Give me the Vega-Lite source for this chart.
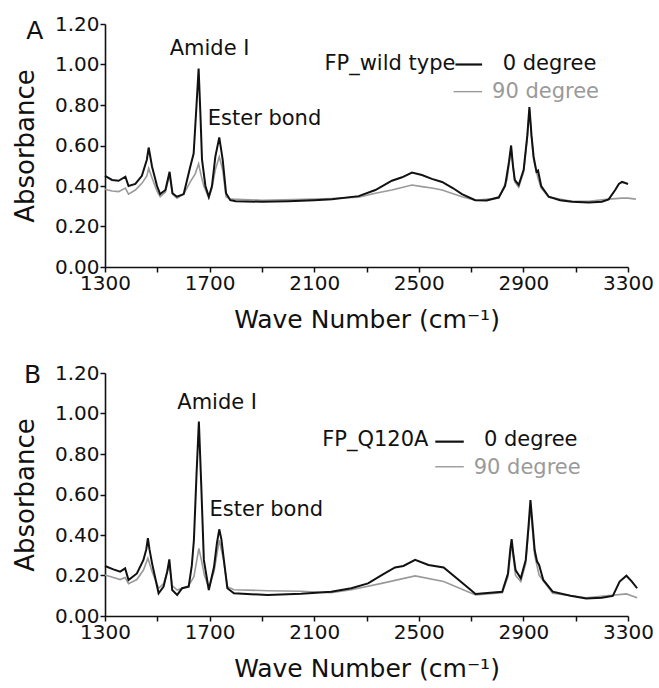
{
  "$schema": "https://vega.github.io/schema/vega-lite/v6.json",
  "background": "white",
  "padding": {"left": 12, "top": 14, "right": 20, "bottom": 5},
  "spacing": 31,
  "config": {
    "view": {"stroke": null},
    "font": "DejaVu Sans",
    "axis": {
      "grid": false,
      "domainColor": "#111",
      "domainWidth": 1.6,
      "tickColor": "#111",
      "tickWidth": 1.5,
      "tickSize": 5,
      "labelColor": "#111",
      "titleColor": "#111",
      "labelFont": "DejaVu Sans",
      "titleFont": "DejaVu Sans",
      "labelFontSize": 20,
      "titleFontWeight": "normal",
      "labelPadding": 1,
      "labelFlush": false
    },
    "text": {"font": "DejaVu Sans"}
  },
  "datasets": {
    "spectra": [
      {"p":"A","s":"90","wn":1300,"ab":0.384},{"p":"A","s":"90","wn":1327,"ab":0.375},{"p":"A","s":"90","wn":1352,"ab":0.372},{"p":"A","s":"90","wn":1378,"ab":0.39},{"p":"A","s":"90","wn":1390,"ab":0.36},{"p":"A","s":"90","wn":1416,"ab":0.38},{"p":"A","s":"90","wn":1441,"ab":0.413},{"p":"A","s":"90","wn":1460,"ab":0.45},{"p":"A","s":"90","wn":1467,"ab":0.487},{"p":"A","s":"90","wn":1480,"ab":0.44},{"p":"A","s":"90","wn":1499,"ab":0.375},{"p":"A","s":"90","wn":1511,"ab":0.347},{"p":"A","s":"90","wn":1531,"ab":0.37},{"p":"A","s":"90","wn":1547,"ab":0.454},{"p":"A","s":"90","wn":1558,"ab":0.36},{"p":"A","s":"90","wn":1575,"ab":0.34},{"p":"A","s":"90","wn":1601,"ab":0.36},{"p":"A","s":"90","wn":1626,"ab":0.42},{"p":"A","s":"90","wn":1645,"ab":0.46},{"p":"A","s":"90","wn":1658,"ab":0.51},{"p":"A","s":"90","wn":1668,"ab":0.45},{"p":"A","s":"90","wn":1678,"ab":0.4},{"p":"A","s":"90","wn":1697,"ab":0.34},{"p":"A","s":"90","wn":1709,"ab":0.39},{"p":"A","s":"90","wn":1722,"ab":0.48},{"p":"A","s":"90","wn":1737,"ab":0.545},{"p":"A","s":"90","wn":1750,"ab":0.48},{"p":"A","s":"90","wn":1763,"ab":0.347},{"p":"A","s":"90","wn":1779,"ab":0.335},{"p":"A","s":"90","wn":1900,"ab":0.33},{"p":"A","s":"90","wn":2100,"ab":0.335},{"p":"A","s":"90","wn":2168,"ab":0.338},{"p":"A","s":"90","wn":2270,"ab":0.345},{"p":"A","s":"90","wn":2334,"ab":0.364},{"p":"A","s":"90","wn":2397,"ab":0.38},{"p":"A","s":"90","wn":2474,"ab":0.405},{"p":"A","s":"90","wn":2512,"ab":0.397},{"p":"A","s":"90","wn":2550,"ab":0.39},{"p":"A","s":"90","wn":2589,"ab":0.38},{"p":"A","s":"90","wn":2665,"ab":0.347},{"p":"A","s":"90","wn":2716,"ab":0.33},{"p":"A","s":"90","wn":2806,"ab":0.34},{"p":"A","s":"90","wn":2837,"ab":0.43},{"p":"A","s":"90","wn":2853,"ab":0.585},{"p":"A","s":"90","wn":2867,"ab":0.42},{"p":"A","s":"90","wn":2882,"ab":0.394},{"p":"A","s":"90","wn":2901,"ab":0.47},{"p":"A","s":"90","wn":2915,"ab":0.64},{"p":"A","s":"90","wn":2923,"ab":0.775},{"p":"A","s":"90","wn":2931,"ab":0.64},{"p":"A","s":"90","wn":2939,"ab":0.53},{"p":"A","s":"90","wn":2956,"ab":0.438},{"p":"A","s":"90","wn":2968,"ab":0.39},{"p":"A","s":"90","wn":2997,"ab":0.345},{"p":"A","s":"90","wn":3086,"ab":0.325},{"p":"A","s":"90","wn":3150,"ab":0.325},{"p":"A","s":"90","wn":3226,"ab":0.335},{"p":"A","s":"90","wn":3277,"ab":0.34},{"p":"A","s":"90","wn":3300,"ab":0.34},{"p":"A","s":"90","wn":3330,"ab":0.335},
      {"p":"A","s":"0","wn":1300,"ab":0.45},{"p":"A","s":"0","wn":1327,"ab":0.43},{"p":"A","s":"0","wn":1352,"ab":0.426},{"p":"A","s":"0","wn":1378,"ab":0.446},{"p":"A","s":"0","wn":1390,"ab":0.4},{"p":"A","s":"0","wn":1416,"ab":0.41},{"p":"A","s":"0","wn":1441,"ab":0.45},{"p":"A","s":"0","wn":1460,"ab":0.53},{"p":"A","s":"0","wn":1467,"ab":0.59},{"p":"A","s":"0","wn":1480,"ab":0.495},{"p":"A","s":"0","wn":1499,"ab":0.4},{"p":"A","s":"0","wn":1511,"ab":0.36},{"p":"A","s":"0","wn":1531,"ab":0.38},{"p":"A","s":"0","wn":1547,"ab":0.47},{"p":"A","s":"0","wn":1558,"ab":0.364},{"p":"A","s":"0","wn":1575,"ab":0.347},{"p":"A","s":"0","wn":1601,"ab":0.36},{"p":"A","s":"0","wn":1626,"ab":0.495},{"p":"A","s":"0","wn":1639,"ab":0.56},{"p":"A","s":"0","wn":1650,"ab":0.8},{"p":"A","s":"0","wn":1658,"ab":0.98},{"p":"A","s":"0","wn":1665,"ab":0.75},{"p":"A","s":"0","wn":1671,"ab":0.53},{"p":"A","s":"0","wn":1684,"ab":0.4},{"p":"A","s":"0","wn":1697,"ab":0.347},{"p":"A","s":"0","wn":1709,"ab":0.4},{"p":"A","s":"0","wn":1722,"ab":0.545},{"p":"A","s":"0","wn":1737,"ab":0.64},{"p":"A","s":"0","wn":1750,"ab":0.53},{"p":"A","s":"0","wn":1763,"ab":0.364},{"p":"A","s":"0","wn":1779,"ab":0.33},{"p":"A","s":"0","wn":1800,"ab":0.325},{"p":"A","s":"0","wn":1900,"ab":0.322},{"p":"A","s":"0","wn":2000,"ab":0.325},{"p":"A","s":"0","wn":2100,"ab":0.33},{"p":"A","s":"0","wn":2168,"ab":0.334},{"p":"A","s":"0","wn":2270,"ab":0.35},{"p":"A","s":"0","wn":2334,"ab":0.38},{"p":"A","s":"0","wn":2397,"ab":0.426},{"p":"A","s":"0","wn":2436,"ab":0.443},{"p":"A","s":"0","wn":2474,"ab":0.466},{"p":"A","s":"0","wn":2512,"ab":0.454},{"p":"A","s":"0","wn":2550,"ab":0.435},{"p":"A","s":"0","wn":2589,"ab":0.42},{"p":"A","s":"0","wn":2630,"ab":0.39},{"p":"A","s":"0","wn":2665,"ab":0.36},{"p":"A","s":"0","wn":2716,"ab":0.33},{"p":"A","s":"0","wn":2760,"ab":0.328},{"p":"A","s":"0","wn":2806,"ab":0.344},{"p":"A","s":"0","wn":2830,"ab":0.4},{"p":"A","s":"0","wn":2845,"ab":0.52},{"p":"A","s":"0","wn":2853,"ab":0.6},{"p":"A","s":"0","wn":2860,"ab":0.5},{"p":"A","s":"0","wn":2867,"ab":0.43},{"p":"A","s":"0","wn":2882,"ab":0.405},{"p":"A","s":"0","wn":2901,"ab":0.48},{"p":"A","s":"0","wn":2915,"ab":0.65},{"p":"A","s":"0","wn":2923,"ab":0.79},{"p":"A","s":"0","wn":2931,"ab":0.65},{"p":"A","s":"0","wn":2939,"ab":0.545},{"p":"A","s":"0","wn":2950,"ab":0.47},{"p":"A","s":"0","wn":2956,"ab":0.476},{"p":"A","s":"0","wn":2968,"ab":0.4},{"p":"A","s":"0","wn":2997,"ab":0.347},{"p":"A","s":"0","wn":3040,"ab":0.33},{"p":"A","s":"0","wn":3086,"ab":0.322},{"p":"A","s":"0","wn":3150,"ab":0.318},{"p":"A","s":"0","wn":3200,"ab":0.322},{"p":"A","s":"0","wn":3226,"ab":0.334},{"p":"A","s":"0","wn":3251,"ab":0.38},{"p":"A","s":"0","wn":3265,"ab":0.41},{"p":"A","s":"0","wn":3277,"ab":0.42},{"p":"A","s":"0","wn":3290,"ab":0.415},{"p":"A","s":"0","wn":3300,"ab":0.41},
      {"p":"B","s":"90","wn":1300,"ab":0.202},{"p":"B","s":"90","wn":1332,"ab":0.19},{"p":"B","s":"90","wn":1358,"ab":0.18},{"p":"B","s":"90","wn":1377,"ab":0.19},{"p":"B","s":"90","wn":1390,"ab":0.16},{"p":"B","s":"90","wn":1422,"ab":0.18},{"p":"B","s":"90","wn":1447,"ab":0.227},{"p":"B","s":"90","wn":1464,"ab":0.285},{"p":"B","s":"90","wn":1480,"ab":0.22},{"p":"B","s":"90","wn":1505,"ab":0.137},{"p":"B","s":"90","wn":1524,"ab":0.16},{"p":"B","s":"90","wn":1546,"ab":0.25},{"p":"B","s":"90","wn":1557,"ab":0.15},{"p":"B","s":"90","wn":1576,"ab":0.128},{"p":"B","s":"90","wn":1600,"ab":0.14},{"p":"B","s":"90","wn":1620,"ab":0.15},{"p":"B","s":"90","wn":1640,"ab":0.194},{"p":"B","s":"90","wn":1659,"ab":0.334},{"p":"B","s":"90","wn":1668,"ab":0.28},{"p":"B","s":"90","wn":1680,"ab":0.202},{"p":"B","s":"90","wn":1697,"ab":0.137},{"p":"B","s":"90","wn":1717,"ab":0.22},{"p":"B","s":"90","wn":1737,"ab":0.375},{"p":"B","s":"90","wn":1753,"ab":0.28},{"p":"B","s":"90","wn":1768,"ab":0.145},{"p":"B","s":"90","wn":1793,"ab":0.13},{"p":"B","s":"90","wn":1922,"ab":0.125},{"p":"B","s":"90","wn":2050,"ab":0.122},{"p":"B","s":"90","wn":2165,"ab":0.115},{"p":"B","s":"90","wn":2242,"ab":0.13},{"p":"B","s":"90","wn":2358,"ab":0.161},{"p":"B","s":"90","wn":2486,"ab":0.198},{"p":"B","s":"90","wn":2595,"ab":0.17},{"p":"B","s":"90","wn":2717,"ab":0.104},{"p":"B","s":"90","wn":2819,"ab":0.115},{"p":"B","s":"90","wn":2841,"ab":0.194},{"p":"B","s":"90","wn":2855,"ab":0.36},{"p":"B","s":"90","wn":2870,"ab":0.2},{"p":"B","s":"90","wn":2890,"ab":0.17},{"p":"B","s":"90","wn":2909,"ab":0.26},{"p":"B","s":"90","wn":2920,"ab":0.43},{"p":"B","s":"90","wn":2927,"ab":0.54},{"p":"B","s":"90","wn":2935,"ab":0.42},{"p":"B","s":"90","wn":2943,"ab":0.3},{"p":"B","s":"90","wn":2960,"ab":0.202},{"p":"B","s":"90","wn":3012,"ab":0.112},{"p":"B","s":"90","wn":3140,"ab":0.09},{"p":"B","s":"90","wn":3294,"ab":0.109},{"p":"B","s":"90","wn":3335,"ab":0.09},
      {"p":"B","s":"0","wn":1300,"ab":0.247},{"p":"B","s":"0","wn":1332,"ab":0.23},{"p":"B","s":"0","wn":1358,"ab":0.219},{"p":"B","s":"0","wn":1377,"ab":0.235},{"p":"B","s":"0","wn":1390,"ab":0.178},{"p":"B","s":"0","wn":1422,"ab":0.21},{"p":"B","s":"0","wn":1447,"ab":0.277},{"p":"B","s":"0","wn":1458,"ab":0.33},{"p":"B","s":"0","wn":1464,"ab":0.384},{"p":"B","s":"0","wn":1470,"ab":0.33},{"p":"B","s":"0","wn":1480,"ab":0.26},{"p":"B","s":"0","wn":1505,"ab":0.112},{"p":"B","s":"0","wn":1524,"ab":0.145},{"p":"B","s":"0","wn":1538,"ab":0.22},{"p":"B","s":"0","wn":1546,"ab":0.28},{"p":"B","s":"0","wn":1552,"ab":0.2},{"p":"B","s":"0","wn":1557,"ab":0.128},{"p":"B","s":"0","wn":1576,"ab":0.104},{"p":"B","s":"0","wn":1595,"ab":0.137},{"p":"B","s":"0","wn":1620,"ab":0.145},{"p":"B","s":"0","wn":1632,"ab":0.25},{"p":"B","s":"0","wn":1640,"ab":0.375},{"p":"B","s":"0","wn":1650,"ab":0.7},{"p":"B","s":"0","wn":1659,"ab":0.96},{"p":"B","s":"0","wn":1668,"ab":0.65},{"p":"B","s":"0","wn":1678,"ab":0.277},{"p":"B","s":"0","wn":1697,"ab":0.128},{"p":"B","s":"0","wn":1717,"ab":0.243},{"p":"B","s":"0","wn":1728,"ab":0.36},{"p":"B","s":"0","wn":1737,"ab":0.428},{"p":"B","s":"0","wn":1745,"ab":0.38},{"p":"B","s":"0","wn":1753,"ab":0.293},{"p":"B","s":"0","wn":1768,"ab":0.137},{"p":"B","s":"0","wn":1793,"ab":0.112},{"p":"B","s":"0","wn":1922,"ab":0.104},{"p":"B","s":"0","wn":2050,"ab":0.11},{"p":"B","s":"0","wn":2165,"ab":0.12},{"p":"B","s":"0","wn":2242,"ab":0.137},{"p":"B","s":"0","wn":2306,"ab":0.161},{"p":"B","s":"0","wn":2358,"ab":0.202},{"p":"B","s":"0","wn":2409,"ab":0.24},{"p":"B","s":"0","wn":2441,"ab":0.247},{"p":"B","s":"0","wn":2486,"ab":0.277},{"p":"B","s":"0","wn":2537,"ab":0.252},{"p":"B","s":"0","wn":2595,"ab":0.24},{"p":"B","s":"0","wn":2653,"ab":0.178},{"p":"B","s":"0","wn":2717,"ab":0.109},{"p":"B","s":"0","wn":2819,"ab":0.12},{"p":"B","s":"0","wn":2841,"ab":0.21},{"p":"B","s":"0","wn":2850,"ab":0.33},{"p":"B","s":"0","wn":2855,"ab":0.38},{"p":"B","s":"0","wn":2862,"ab":0.3},{"p":"B","s":"0","wn":2870,"ab":0.227},{"p":"B","s":"0","wn":2890,"ab":0.186},{"p":"B","s":"0","wn":2909,"ab":0.277},{"p":"B","s":"0","wn":2920,"ab":0.45},{"p":"B","s":"0","wn":2927,"ab":0.573},{"p":"B","s":"0","wn":2935,"ab":0.45},{"p":"B","s":"0","wn":2943,"ab":0.326},{"p":"B","s":"0","wn":2952,"ab":0.27},{"p":"B","s":"0","wn":2960,"ab":0.252},{"p":"B","s":"0","wn":2976,"ab":0.178},{"p":"B","s":"0","wn":3012,"ab":0.12},{"p":"B","s":"0","wn":3080,"ab":0.1},{"p":"B","s":"0","wn":3140,"ab":0.087},{"p":"B","s":"0","wn":3200,"ab":0.09},{"p":"B","s":"0","wn":3242,"ab":0.099},{"p":"B","s":"0","wn":3268,"ab":0.17},{"p":"B","s":"0","wn":3294,"ab":0.199},{"p":"B","s":"0","wn":3315,"ab":0.17},{"p":"B","s":"0","wn":3335,"ab":0.137}
    ],
    "notes": [
      {"p":"A","kind":"peak","t":"Amide I","wn":1700,"ab":1.075},
      {"p":"A","kind":"peak","t":"Ester bond","wn":1910,"ab":0.732},
      {"p":"A","kind":"letter","t":"A","wn":1032,"ab":1.163},
      {"p":"A","kind":"name","t":"FP_wild type","wn":2640,"ab":1.004},
      {"p":"A","kind":"deg0","t":"0 degree","wn":2821,"ab":1.004},
      {"p":"A","kind":"deg90","t":"90 degree","wn":2780,"ab":0.866},
      {"p":"B","kind":"peak","t":"Amide I","wn":1729,"ab":1.054},
      {"p":"B","kind":"peak","t":"Ester bond","wn":1917,"ab":0.523},
      {"p":"B","kind":"letter","t":"B","wn":1023,"ab":1.19},
      {"p":"B","kind":"name","t":"FP_Q120A","wn":2537,"ab":0.867},
      {"p":"B","kind":"deg0","t":"0 degree","wn":2749,"ab":0.867},
      {"p":"B","kind":"deg90","t":"90 degree","wn":2710,"ab":0.733}
    ],
    "keys": [
      {"p":"A","s":"0","wn":2640,"wn2":2742,"ab":1.0},
      {"p":"A","s":"90","wn":2633,"wn2":2742,"ab":0.866},
      {"p":"B","s":"0","wn":2563,"wn2":2672,"ab":0.861},
      {"p":"B","s":"90","wn":2563,"wn2":2672,"ab":0.737}
    ]
  },
  "vconcat": [
    {
      "width": 523,
      "height": 243,
      "encoding": {
        "x": {"field": "wn", "type": "quantitative", "scale": {"domain": [1300, 3300], "nice": false, "zero": false},
              "axis": {"values": [1300,1500,1700,1900,2100,2300,2500,2700,2900,3100,3300], "format": "d", "labelExpr": "datum.value % 400 == 100 ? datum.label : ''", "title": "Wave Number (cm⁻¹)", "titleFontSize": 25, "titlePadding": 14}},
        "y": {"field": "ab", "type": "quantitative", "scale": {"domain": [0, 1.2], "nice": false, "zero": false},
              "axis": {"values": [0,0.2,0.4,0.6,0.8,1.0,1.2], "format": ".2f", "title": "Absorbance", "titleFontSize": 26, "titlePadding": 16}}
      },
      "layer": [
        {"data": {"name": "spectra"}, "transform": [{"filter": "datum.p == 'A' && datum.s == '90'"}],
         "mark": {"type": "line", "color": "#9a9a9a", "strokeWidth": 1.6, "clip": false}},
        {"data": {"name": "spectra"}, "transform": [{"filter": "datum.p == 'A' && datum.s == '0'"}],
         "mark": {"type": "line", "color": "#111", "strokeWidth": 2, "clip": false}},
        {"data": {"name": "keys"}, "transform": [{"filter": "datum.p == 'A'"}],
         "mark": {"type": "rule", "clip": false},
         "encoding": {"x2": {"field": "wn2"},
                      "color": {"field": "s", "type": "nominal", "scale": {"domain": ["0","90"], "range": ["#111","#9a9a9a"]}, "legend": null},
                      "strokeWidth": {"field": "s", "type": "nominal", "scale": {"domain": ["0","90"], "range": [2.2, 1.4]}, "legend": null}}},
        {"data": {"name": "notes"}, "transform": [{"filter": "datum.p == 'A' && datum.kind == 'peak'"}],
         "mark": {"type": "text", "align": "center", "baseline": "middle", "fontSize": 21, "color": "#111", "clip": false},
         "encoding": {"text": {"field": "t"}}},
        {"data": {"name": "notes"}, "transform": [{"filter": "datum.p == 'A' && datum.kind == 'letter'"}],
         "mark": {"type": "text", "align": "center", "baseline": "middle", "fontSize": 25, "color": "#111", "clip": false},
         "encoding": {"text": {"field": "t"}}},
        {"data": {"name": "notes"}, "transform": [{"filter": "datum.p == 'A' && datum.kind == 'name'"}],
         "mark": {"type": "text", "align": "right", "baseline": "middle", "fontSize": 21, "color": "#111", "clip": false},
         "encoding": {"text": {"field": "t"}}},
        {"data": {"name": "notes"}, "transform": [{"filter": "datum.p == 'A' && datum.kind == 'deg0'"}],
         "mark": {"type": "text", "align": "left", "baseline": "middle", "fontSize": 21, "color": "#111", "clip": false},
         "encoding": {"text": {"field": "t"}}},
        {"data": {"name": "notes"}, "transform": [{"filter": "datum.p == 'A' && datum.kind == 'deg90'"}],
         "mark": {"type": "text", "align": "left", "baseline": "middle", "fontSize": 21, "color": "#9a9a9a", "clip": false},
         "encoding": {"text": {"field": "t"}}}
      ]
    },
    {
      "width": 523,
      "height": 243,
      "encoding": {
        "x": {"field": "wn", "type": "quantitative", "scale": {"domain": [1300, 3300], "nice": false, "zero": false},
              "axis": {"values": [1300,1500,1700,1900,2100,2300,2500,2700,2900,3100,3300], "format": "d", "labelExpr": "datum.value % 400 == 100 ? datum.label : ''", "title": "Wave Number (cm⁻¹)", "titleFontSize": 25, "titlePadding": 14}},
        "y": {"field": "ab", "type": "quantitative", "scale": {"domain": [0, 1.2], "nice": false, "zero": false},
              "axis": {"values": [0,0.2,0.4,0.6,0.8,1.0,1.2], "format": ".2f", "title": "Absorbance", "titleFontSize": 26, "titlePadding": 16}}
      },
      "layer": [
        {"data": {"name": "spectra"}, "transform": [{"filter": "datum.p == 'B' && datum.s == '90'"}],
         "mark": {"type": "line", "color": "#9a9a9a", "strokeWidth": 1.6, "clip": false}},
        {"data": {"name": "spectra"}, "transform": [{"filter": "datum.p == 'B' && datum.s == '0'"}],
         "mark": {"type": "line", "color": "#111", "strokeWidth": 2, "clip": false}},
        {"data": {"name": "keys"}, "transform": [{"filter": "datum.p == 'B'"}],
         "mark": {"type": "rule", "clip": false},
         "encoding": {"x2": {"field": "wn2"},
                      "color": {"field": "s", "type": "nominal", "scale": {"domain": ["0","90"], "range": ["#111","#9a9a9a"]}, "legend": null},
                      "strokeWidth": {"field": "s", "type": "nominal", "scale": {"domain": ["0","90"], "range": [2.2, 1.4]}, "legend": null}}},
        {"data": {"name": "notes"}, "transform": [{"filter": "datum.p == 'B' && datum.kind == 'peak'"}],
         "mark": {"type": "text", "align": "center", "baseline": "middle", "fontSize": 21, "color": "#111", "clip": false},
         "encoding": {"text": {"field": "t"}}},
        {"data": {"name": "notes"}, "transform": [{"filter": "datum.p == 'B' && datum.kind == 'letter'"}],
         "mark": {"type": "text", "align": "center", "baseline": "middle", "fontSize": 25, "color": "#111", "clip": false},
         "encoding": {"text": {"field": "t"}}},
        {"data": {"name": "notes"}, "transform": [{"filter": "datum.p == 'B' && datum.kind == 'name'"}],
         "mark": {"type": "text", "align": "right", "baseline": "middle", "fontSize": 21, "color": "#111", "clip": false},
         "encoding": {"text": {"field": "t"}}},
        {"data": {"name": "notes"}, "transform": [{"filter": "datum.p == 'B' && datum.kind == 'deg0'"}],
         "mark": {"type": "text", "align": "left", "baseline": "middle", "fontSize": 21, "color": "#111", "clip": false},
         "encoding": {"text": {"field": "t"}}},
        {"data": {"name": "notes"}, "transform": [{"filter": "datum.p == 'B' && datum.kind == 'deg90'"}],
         "mark": {"type": "text", "align": "left", "baseline": "middle", "fontSize": 21, "color": "#9a9a9a", "clip": false},
         "encoding": {"text": {"field": "t"}}}
      ]
    }
  ]
}
